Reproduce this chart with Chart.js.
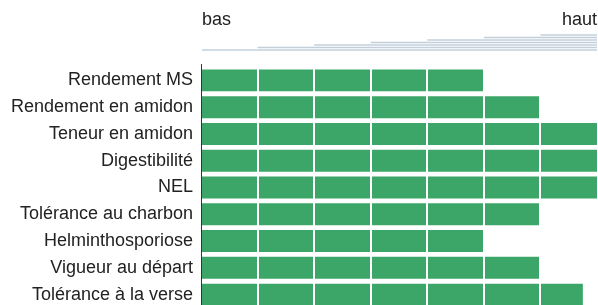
<!DOCTYPE html>
<html>
<head>
<meta charset="utf-8">
<script src="https://cdn.jsdelivr.net/npm/chart.js@4"></script>
<style>
  html, body { margin: 0; padding: 0; background: #fff; overflow: hidden; }
  #wrap { position: relative; width: 598px; height: 308px; }
</style>
</head>
<body>
<div id="wrap"><canvas id="traits"></canvas></div>
<script>
// Chart data
const traits = ['Rendement MS', 'Rendement en amidon', 'Teneur en amidon', 'Digestibilité', 'NEL',
    'Tolérance au charbon', 'Helminthosporiose', 'Vigueur au départ', 'Tolérance à la verse'];
const scores = [5, 6, 7, 7, 7, 6, 5, 6, 6.75];
const scaleLabels = ['bas', 'haut'];
const scaleSteps = 7;

const FONT = '"Liberation Sans", Arial, Helvetica, sans-serif';
const GREEN = '#3ba668';

// draws the "bas ... haut" header with the little staircase of lines
const headerPlugin = {
    id: 'header',
    afterDraw(chart) {
        const ctx = chart.ctx;
        const x = chart.scales.x;
        const right = chart.chartArea.right;
        ctx.save();
        ctx.fillStyle = '#222';
        ctx.font = '18px ' + FONT;
        ctx.textBaseline = 'alphabetic';
        ctx.textAlign = 'left';
        ctx.fillText(scaleLabels[0], x.getPixelForValue(0) + 1, 25);
        ctx.textAlign = 'right';
        ctx.fillText(scaleLabels[1], right, 25);

        ctx.strokeStyle = '#c3d0dc';
        ctx.lineWidth = 1.5;
        for (let i = 0; i < scaleSteps; i++) {
            const y = 50 - i * 2.5;
            ctx.beginPath();
            ctx.moveTo(x.getPixelForValue(i) + (i === 0 ? 1 : 0), y);
            ctx.lineTo(right, y);
            ctx.stroke();
        }
        // axis line pokes a little above the first bar
        ctx.strokeStyle = '#333';
        ctx.lineWidth = 1;
        ctx.beginPath();
        ctx.moveTo(chart.chartArea.left + 0.5, 64);
        ctx.lineTo(chart.chartArea.left + 0.5, chart.chartArea.top);
        ctx.stroke();
        ctx.restore();
    }
};

const ctx = document.getElementById('traits').getContext('2d');
const traitsChart = new Chart(ctx, {
    type: 'bar',
    data: {
        labels: traits,
        datasets: [{
            data: scores,
            backgroundColor: GREEN,
            borderWidth: 0,
            categoryPercentage: 1,
            barPercentage: 0.82
        }]
    },
    options: {
        indexAxis: 'y', // horizontal bars
        responsive: true,
        maintainAspectRatio: false,
        animation: false,
        layout: { padding: { top: 67, right: 1, bottom: 0, left: 0 } },
        plugins: {
            legend: { display: false },
            tooltip: { enabled: false }
        },
        scales: {
            x: {
                min: 0,
                max: scaleSteps,
                afterFit: s => { s.height = 0; },
                ticks: { display: false, stepSize: 1 },
                border: { display: false },
                grid: {
                    z: 1,
                    drawTicks: false,
                    lineWidth: 2,
                    color: c => (c.tick && c.tick.value > 0 && c.tick.value < scaleSteps) ? '#ffffff' : 'rgba(0,0,0,0)'
                }
            },
            y: {
                afterFit: s => {
                    s.width = 201;
                    s.paddingTop = 0;
                    s.paddingBottom = 0;
                },
                grid: { display: false, drawTicks: false },
                border: { display: true, color: '#333', width: 1 },
                ticks: {
                    padding: 8,
                    color: '#222',
                    font: { family: FONT, size: 18 }
                }
            }
        }
    },
    plugins: [headerPlugin]
});
</script>
</body>
</html>
